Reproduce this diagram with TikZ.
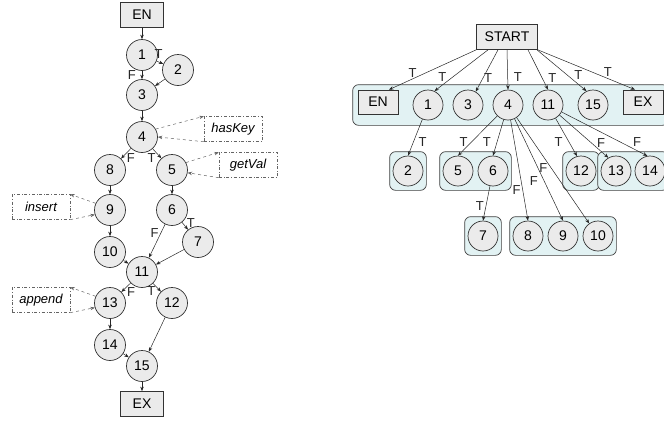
\documentclass[tikz,border=0pt]{standalone}
\usepackage{fontspec}
\setmainfont{Liberation Sans}
\definecolor{nodegray}{RGB}{235,235,235}
\definecolor{groupcyan}{RGB}{226,242,243}
\definecolor{callgray}{RGB}{100,100,100}
\usetikzlibrary{arrows.meta, positioning, fit, backgrounds}

\begin{document}
\begin{tikzpicture}[x=1pt, y=-1pt, font=\fontsize{14}{16}\selectfont,
  cfgnode/.style={circle, draw=black!80, line width=0.7pt, fill=nodegray, minimum size=31pt, inner sep=0pt},
  endbox/.style={rectangle, draw=black!80, line width=0.7pt, fill=nodegray, minimum width=43pt, minimum height=25pt, inner sep=0pt},
  callbox/.style={rectangle, draw=callgray, dash dot, fill=white, minimum width=58pt, minimum height=25pt, font=\fontsize{13}{15}\selectfont\itshape},
  flow/.style={-{Stealth[length=4.5pt, width=3.5pt]}, black!85, line width=0.5pt},
  callflow/.style={-{Stealth[length=4.5pt, width=3.5pt]}, callgray, dashed, line width=0.5pt},
  lbl/.style={font=\fontsize{13}{15}\selectfont, inner sep=1pt},
  group/.style={draw=black!75, line width=0.7pt, fill=groupcyan, rounded corners=6pt, inner xsep=3pt, inner ysep=4pt}]

\useasboundingbox (0,0) rectangle (664,424);

% control flow graph
\node[endbox] (en) at (142,15) {EN};
\node[cfgnode] (n1) at (142,55) {1};
\node[cfgnode] (n2) at (178,70) {2};
\node[cfgnode] (n3) at (142,95) {3};
\node[cfgnode] (n4) at (142,137) {4};
\node[cfgnode] (n8) at (110,170) {8};
\node[cfgnode] (n5) at (172,170) {5};
\node[cfgnode] (n9) at (110,210) {9};
\node[cfgnode] (n6) at (172,210) {6};
\node[cfgnode] (n7) at (198,242) {7};
\node[cfgnode] (n10) at (110,252) {10};
\node[cfgnode] (n11) at (142,272) {11};
\node[cfgnode] (n13) at (110,303) {13};
\node[cfgnode] (n12) at (172,303) {12};
\node[cfgnode] (n14) at (110,345) {14};
\node[cfgnode] (n15) at (142,366) {15};
\node[endbox] (ex) at (142,404) {EX};

\node[callbox] (haskey) at (233,129) {hasKey};
\node[callbox] (getval) at (248,165) {getVal};
\node[callbox] (insert) at (41,207) {insert};
\node[callbox] (append) at (41,300) {append};

\draw[flow] (en) -- (n1);
\draw[flow] (n1) -- node[lbl, pos=.3, above=2pt]{T} (n2);
\draw[flow] (n1) -- node[lbl, pos=.5, left=5pt]{F} (n3);
\draw[flow] (n2) -- (n3);
\draw[flow] (n3) -- (n4);
\draw[flow] (n4) -- node[lbl, pos=.95, right=4pt]{F} (n8);
\draw[flow] (n4) -- node[lbl, pos=.95, left=4pt]{T} (n5);
\draw[flow] (n8) -- (n9);
\draw[flow] (n5) -- (n6);
\draw[flow] (n6) -- node[lbl, pos=.1, right=3pt]{T} (n7);
\draw[flow] (n6) -- node[lbl, pos=.27, left=1pt]{F} (n11);
\draw[flow] (n7) -- (n11);
\draw[flow] (n9) -- (n10);
\draw[flow] (n10) -- (n11);
\draw[flow] (n11) -- node[lbl, pos=.95, right=4pt]{F} (n13);
\draw[flow] (n11) -- node[lbl, pos=.95, left=4pt]{T} (n12);
\draw[flow] (n13) -- (n14);
\draw[flow] (n12) -- (n15);
\draw[flow] (n14) -- (n15);
\draw[flow] (n15) -- (ex);

\draw[callflow] (n4.30) -- (haskey.north west);
\draw[callflow] (haskey.south west) -- (n4.east);
\draw[callflow] (n5.28) -- (getval.north west);
\draw[callflow] (getval.south west) -- (n5.-10);
\draw[callflow] (n9.155) -- (insert.north east);
\draw[callflow] (insert.south east) -- (n9.197);
\draw[callflow] (n13.155) -- (append.north east);
\draw[callflow] (append.south east) -- (n13.197);

% dependence tree
\node[endbox, minimum width=61pt] (start) at (507,37) {START};
\node[endbox, minimum width=40pt, minimum height=24pt] (ren) at (378,102) {EN};
\node[cfgnode, minimum size=30pt] (r1) at (428,105) {1};
\node[cfgnode, minimum size=30pt] (r3) at (468,105) {3};
\node[cfgnode, minimum size=30pt] (r4) at (508,105) {4};
\node[cfgnode, minimum size=30pt] (r11) at (548,105) {11};
\node[cfgnode, minimum size=30pt] (r15) at (593,105) {15};
\node[endbox, minimum width=40pt, minimum height=24pt] (rex) at (643,102) {EX};
\node[cfgnode, minimum size=30pt] (r2) at (408,171) {2};
\node[cfgnode, minimum size=30pt] (r5) at (458,171) {5};
\node[cfgnode, minimum size=30pt] (r6) at (493,171) {6};
\node[cfgnode, minimum size=30pt] (r12) at (581,171) {12};
\node[cfgnode, minimum size=30pt] (r13) at (616,171) {13};
\node[cfgnode, minimum size=30pt] (r14) at (650,171) {14};
\node[cfgnode, minimum size=30pt] (r7) at (483,236) {7};
\node[cfgnode, minimum size=30pt] (r8) at (528,236) {8};
\node[cfgnode, minimum size=30pt] (r9) at (563,236) {9};
\node[cfgnode, minimum size=30pt] (r10) at (598,236) {10};

\begin{scope}[on background layer]
  \node[group, inner xsep=5pt, inner ysep=5pt, fit=(ren)(rex)(r1)] (top) {};
  \node[group, fit=(r2)] (g2) {};
  \node[group, fit=(r5)(r6)] (g56) {};
  \node[group, fit=(r12)] (g12) {};
  \node[group, fit=(r13)(r14)] (g1314) {};
  \node[group, fit=(r7)] (g7) {};
  \node[group, fit=(r8)(r9)(r10)] (g810) {};
\end{scope}

\draw[flow] (start.south west) -- node[lbl, pos=.73, above]{T} ([xshift=11pt]ren.north);
\draw[flow] ([xshift=-19pt]start.south) -- node[lbl, pos=.66, left=5pt]{T} (r1.65);
\draw[flow] ([xshift=-9pt]start.south) -- node[lbl, pos=.68, right=0pt]{T} (r3.60);
\draw[flow] (start.south) -- node[lbl, pos=.68, right=5pt]{T} (r4.north);
\draw[flow] ([xshift=21pt]start.south) -- node[lbl, pos=.7, right=5pt]{T} (r11.north);
\draw[flow] ([xshift=30pt]start.south) -- node[lbl, pos=.61, right=6pt]{T} (r15.115);
\draw[flow] (start.south east) -- node[lbl, pos=.72, above=1pt]{T} ([xshift=-8pt]rex.north);

\draw[flow] (r1) -- node[lbl, pos=.62, right=4pt]{T} (r2.north);
\draw[flow] (r4) -- node[lbl, pos=.65, left=3pt]{T} (r5.north);
\draw[flow] (r4) -- node[lbl, pos=.62, left=5pt]{T} (r6.north);
\draw[flow] (r6) -- node[lbl, pos=.575, left=1pt]{T} (r7.north);
\draw[flow] (r4) -- node[lbl, pos=.7, left=1pt]{F} (r8.north);
\draw[flow] (r4) -- node[lbl, pos=.61, left=5pt]{F} (r9.north);
\draw[flow] (r4) -- node[lbl, pos=.48, left=3pt]{F} (r10.125);
\draw[flow] (r11) -- node[lbl, pos=.62, left=5pt]{T} (r12.105);
\draw[flow] (r11) -- node[lbl, pos=.85, above=3pt]{F} (r13.120);
\draw[flow] (r11) -- node[lbl, pos=.88, above=3pt]{F} (r14.100);
\end{tikzpicture}
\end{document}
